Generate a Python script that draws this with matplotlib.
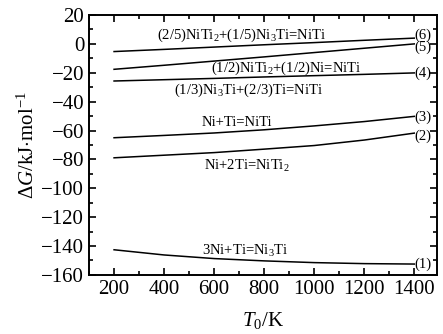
import matplotlib
matplotlib.use("Agg")
import matplotlib.pyplot as plt
from matplotlib.ticker import MultipleLocator

plt.rcParams['font.family'] = ['Liberation Serif', 'DejaVu Serif']
plt.rcParams['mathtext.fontset'] = 'custom'
plt.rcParams['mathtext.rm'] = 'Liberation Serif'
plt.rcParams['mathtext.it'] = 'Liberation Serif:italic'

# temperature, K
T = [200, 400, 600, 800, 1000, 1200, 1400]

# Gibbs energy change, kJ/mol
dG1 = [-142.6, -146.2, -148.7, -150.3, -151.5, -152.2, -152.5]
dG2 = [-78.9, -77.1, -75.3, -72.9, -70.4, -66.6, -61.8]
dG3 = [-65.0, -63.4, -61.7, -59.5, -56.8, -53.8, -50.2]
dG4 = [-25.7, -24.8, -23.9, -22.9, -22.0, -21.1, -20.1]
dG5 = [-17.6, -14.8, -11.9, -9.0, -6.0, -3.0, 0.0]
dG6 = [-5.3, -3.8, -2.2, -0.6, 0.9, 2.5, 4.0]

curves = [dG1, dG2, dG3, dG4, dG5, dG6]
numbers = ['(1)', '(2)', '(3)', '(4)', '(5)', '(6)']
number_y = [-152.5, -63.9, -51.0, -20.6, -2.5, 6.2]

reactions = [
    ('3Ni+Ti=Ni$_3$Ti', 725, -143.7),
    ('Ni+2Ti=NiTi$_2$', 730, -84.7),
    ('Ni+Ti=NiTi', 690, -54.6),
    ('(1/3)Ni$_3$Ti+(2/3)Ti=NiTi', 738, -31.9),
    ('(1/2)NiTi$_2$+(1/2)Ni=NiTi', 890, -16.9),
    ('(2/5)NiTi$_2$+(1/5)Ni$_3$Ti=NiTi', 710, 6.2),
]

fig = plt.figure(figsize=(4.43, 3.34), dpi=100)
ax = fig.add_axes([0.201, 0.177, 0.785, 0.778])

for dG, num, ny in zip(curves, numbers, number_y):
    ax.plot(T, dG, color='black', lw=1.1)
    ax.text(1402, ny, num, fontsize=10.5, ha='left', va='center')

for label, x, y in reactions:
    ax.text(x, y, label, fontsize=10.5, ha='center', va='center')

ax.set_xlim(100, 1490)
ax.set_ylim(-160, 20)
ax.xaxis.set_major_locator(MultipleLocator(200))
ax.xaxis.set_minor_locator(MultipleLocator(100))
ax.yaxis.set_major_locator(MultipleLocator(20))
ax.yaxis.set_minor_locator(MultipleLocator(10))
ax.tick_params(which='both', direction='in', top=True, right=True, labelsize=15, width=1.2)
ax.tick_params(which='major', length=5)
ax.tick_params(which='minor', length=3)
for s in ax.spines.values():
    s.set_linewidth(1.4)

ax.set_xlabel(r'$T_{\mathrm{0}}$/K', fontsize=15, labelpad=8)
ax.set_ylabel(r'$\Delta G$/kJ$\cdot$mol$^{\mathrm{-1}}$', fontsize=15, labelpad=2)

fig.savefig('out.png', dpi=100)
